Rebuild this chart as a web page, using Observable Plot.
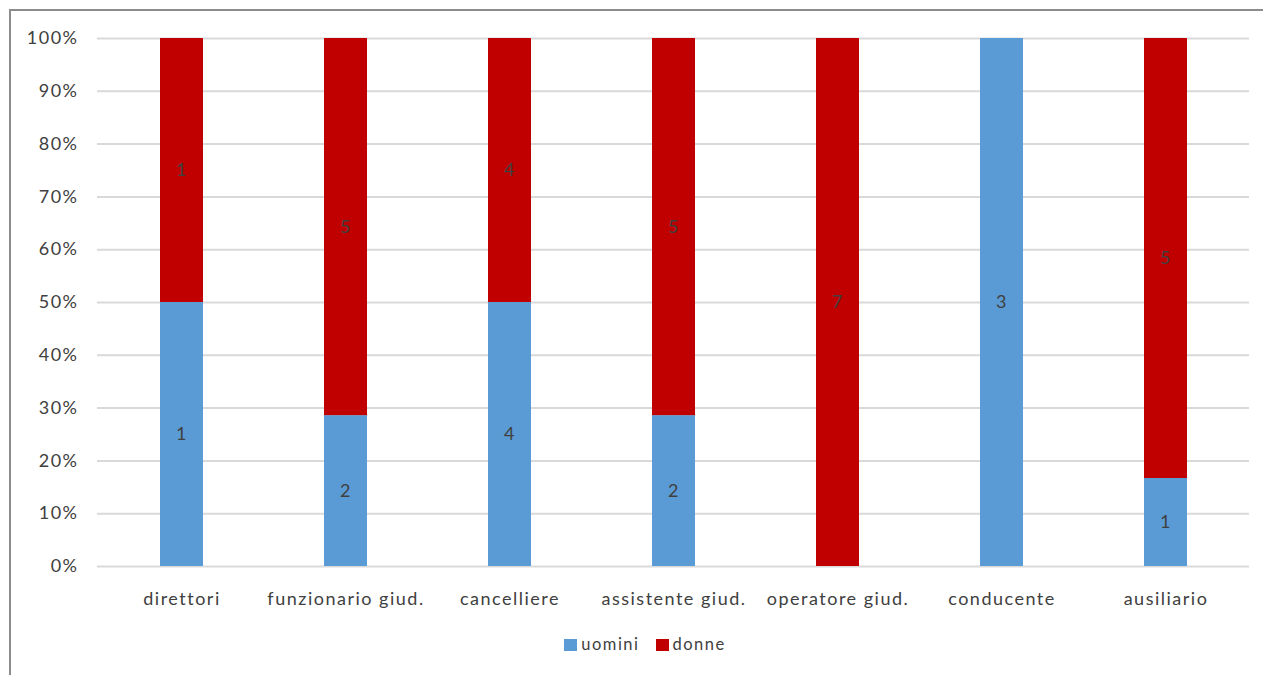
<!DOCTYPE html>
<html><head><meta charset="utf-8">
<script src="https://cdn.jsdelivr.net/npm/d3@7"></script>
<script src="https://cdn.jsdelivr.net/npm/@observablehq/plot@0.6"></script>
<style>
html,body{margin:0;padding:0;background:#fff;overflow:hidden;}
#frame{position:absolute;left:9px;top:9px;width:1400px;height:800px;border-left:2px solid #8c8c8c;border-top:2px solid #8c8c8c;}
#chart{position:absolute;left:0;top:0;}
#chart svg text{letter-spacing:1.5px;}
#legend{position:absolute;top:634px;left:0;width:1290px;text-align:center;font-family:Lato,"Open Sans",sans-serif;font-size:16.5px;letter-spacing:1.5px;color:#404040;}
#legend span.sw{display:inline-block;width:13px;height:12px;vertical-align:-1px;margin-right:4px;}
#legend span.it{margin:0 8px;}
</style>
</head><body>
<div id="frame"></div>
<div id="chart"></div>
<div id="legend"></div>
<script>
const categories = ["direttori","funzionario giud.","cancelliere","assistente giud.","operatore giud.","conducente","ausiliario"];
const series = ["uomini","donne"];
const uomini = [1,2,4,2,0,3,1];
const donne  = [1,5,4,5,7,0,5];
const colors = ["#5B9BD5","#C00000"];
const yTicks = [0,0.1,0.2,0.3,0.4,0.5,0.6,0.7,0.8,0.9,1];

const data = [];
categories.forEach((c,i)=>{
  data.push({cat:c, sex:"uomini", value:uomini[i]});
  data.push({cat:c, sex:"donne", value:donne[i]});
});
const stackOpts = {x:"cat", y:"value", z:"sex", offset:"normalize", order:series};

const chart = Plot.plot({
  width:1263, height:620,
  marginLeft:97, marginRight:14, marginTop:38, marginBottom:54,
  style:{fontFamily:"Lato, 'Open Sans', sans-serif", fontSize:"18px", color:"#404040", background:"transparent"},
  x:{domain:categories, paddingInner:0.74, paddingOuter:0.37, label:null},
  y:{domain:[0,1], ticks:yTicks, tickFormat:d3.format(".0%"), label:null},
  color:{domain:series, range:colors},
  marks:[
    Plot.gridY(yTicks,{stroke:"#d9d9d9", strokeOpacity:1, strokeWidth:2}),
    Plot.barY(data, Plot.stackY({...stackOpts, fill:"sex"})),
    Plot.text(data.filter(d=>d.value>0), Plot.stackY({...stackOpts, text:d=>String(d.value), fill:"#404040", fontSize:18})),
    Plot.axisY({ticks:yTicks, tickFormat:d3.format(".0%"), tickSize:0, tickPadding:19, fontSize:18, fill:"#404040", label:null}),
    Plot.axisX({tickSize:0, tickPadding:26, fontSize:18, fill:"#404040", label:null})
  ]
});
document.getElementById("chart").appendChild(chart);

const leg = document.getElementById("legend");
series.forEach((s,i)=>{
  const it = document.createElement("span"); it.className="it";
  const sw = document.createElement("span"); sw.className="sw"; sw.style.background=colors[i];
  it.appendChild(sw); it.appendChild(document.createTextNode(s));
  leg.appendChild(it);
});
</script>
</body></html>
